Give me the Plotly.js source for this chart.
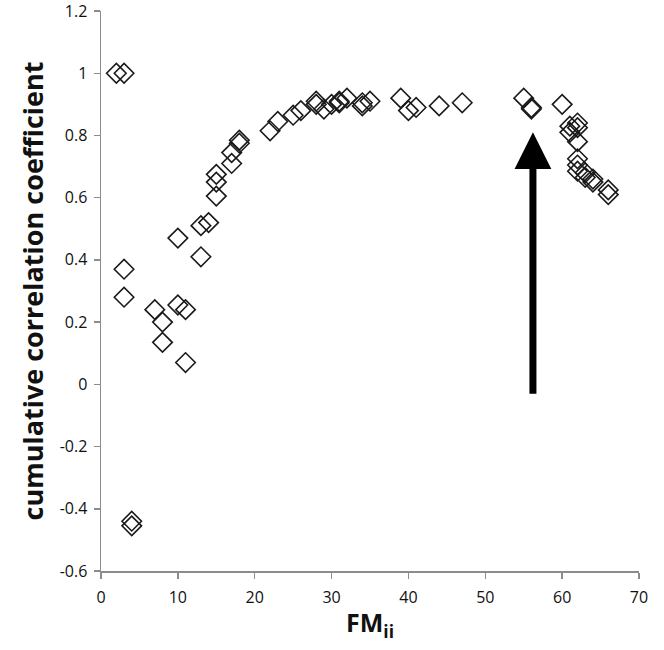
<!DOCTYPE html>
<html>
<head>
<meta charset="utf-8">
<script src="https://cdn.plot.ly/plotly-3.0.1.min.js"></script>
<style>html,body{margin:0;padding:0;background:#fff;}#chart{width:664px;height:650px;}</style>
</head>
<body>
<div id="chart"></div>
<script>
// FM_ii values (x) and cumulative correlation coefficients (y)
const fm = [2, 3, 3, 3, 4, 4, 7, 8, 8, 10, 10, 11, 11, 13, 13, 14, 15, 15, 15, 17, 17, 18, 18, 22, 23, 25, 26, 28, 28, 29, 30, 31, 31, 32, 34, 34, 35, 39, 40, 41, 44, 47, 55, 56, 56, 60, 61, 61, 62, 62, 62, 62, 62, 62, 63, 63, 64, 64, 66, 66];
const cc = [1.0, 1.0, 0.37, 0.28, -0.44, -0.455, 0.24, 0.2, 0.135, 0.47, 0.255, 0.24, 0.07, 0.41, 0.51, 0.52, 0.675, 0.65, 0.605, 0.745, 0.71, 0.785, 0.775, 0.815, 0.845, 0.865, 0.88, 0.91, 0.9, 0.885, 0.9, 0.91, 0.905, 0.92, 0.905, 0.895, 0.91, 0.92, 0.88, 0.89, 0.895, 0.905, 0.92, 0.89, 0.885, 0.9, 0.83, 0.81, 0.84, 0.825, 0.78, 0.725, 0.705, 0.685, 0.68, 0.665, 0.66, 0.65, 0.625, 0.61];

const xTickVals = [0, 10, 20, 30, 40, 50, 60, 70];
const xTickText = ["0", "10", "20", "30", "40", "50", "60", "70"];
const yTickVals = [-0.6, -0.4, -0.2, 0, 0.2, 0.4, 0.6, 0.8, 1, 1.2];
const yTickText = ["-0.6", "-0.4", "-0.2", "0", "0.2", "0.4", "0.6", "0.8", "1", "1.2"];

// arrow pointing at the selected FM_ii
const arrowX = 56.2;
const arrowTipY = 0.81;
const arrowTailY = -0.035;

const trace = {
  x: fm, y: cc, type: 'scatter', mode: 'markers',
  marker: {symbol: 'diamond-open', size: 15, color: '#1a1a1a', line: {width: 1.6, color: '#1a1a1a'}},
  hoverinfo: 'x+y', cliponaxis: false
};

const layout = {
  width: 664, height: 650,
  margin: {l: 101, r: 25, t: 11, b: 79},
  paper_bgcolor: '#fff', plot_bgcolor: '#fff',
  showlegend: false,
  font: {family: 'Open Sans, sans-serif', color: '#111'},
  xaxis: {
    range: [-0.0001, 70.0001], tickvals: xTickVals, ticktext: xTickText,
    showgrid: false, zeroline: false, showline: true, linecolor: '#8c8c8c', linewidth: 1.5,
    ticks: 'outside', ticklen: 6, tickcolor: '#8c8c8c', tickwidth: 1.5,
    ticklabelstandoff: 5, ticklabeloverflow: 'allow',
    tickfont: {size: 16, color: '#111'},
    title: {text: 'FM<sub>ii</sub>', font: {size: 25, color: '#111', family: 'Open Sans, sans-serif', weight: 'bold'}, standoff: 8}
  },
  yaxis: {
    range: [-0.6001, 1.2001], tickvals: yTickVals, ticktext: yTickText,
    showgrid: false, zeroline: false, showline: true, linecolor: '#8c8c8c', linewidth: 1.5,
    ticks: 'outside', ticklen: 6, tickcolor: '#8c8c8c', tickwidth: 1.5,
    ticklabelstandoff: 3, ticklabeloverflow: 'allow',
    tickfont: {size: 16, color: '#111'},
    title: {text: 'cumulative correlation coefficient', font: {size: 27, color: '#111', family: 'Open Sans, sans-serif', weight: 'bold'}, standoff: 8}
  },
  annotations: [{
    x: arrowX, y: arrowTipY, ax: arrowX, ay: arrowTailY,
    xref: 'x', yref: 'y', axref: 'x', ayref: 'y',
    text: '', showarrow: true, arrowhead: 2, arrowsize: 1.05, arrowwidth: 7, arrowcolor: '#000'
  }]
};

Plotly.newPlot('chart', [trace], layout, {displayModeBar: false, staticPlot: true});
</script>
</body>
</html>
